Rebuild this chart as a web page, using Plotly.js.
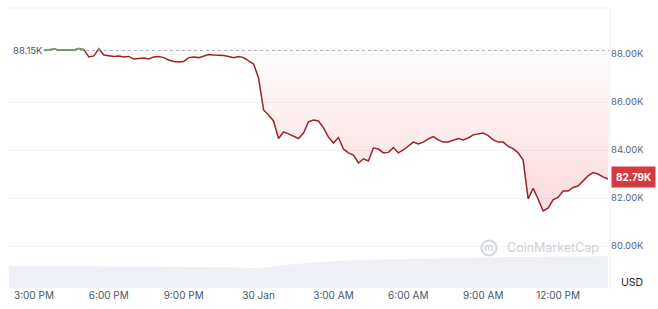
<!DOCTYPE html>
<html>
<head>
<meta charset="utf-8">
<script src="https://cdn.plot.ly/plotly-3.0.1.min.js"></script>
<style>html,body{margin:0;padding:0;background:#fff;}#chart{width:658px;height:309px;}</style>
</head>
<body>
<div id="chart"></div>
<script>
// ---- data ----
const priceStart = '2026-01-29T15:24:00';
const priceStepMin = 12;
const priceK = [88.15, 88.19, 88.21, 88.17, 88.19, 88.18, 88.17, 88.23, 88.18, 87.88,
 87.92, 88.22, 87.96, 87.94, 87.90, 87.92, 87.88, 87.90, 87.79, 87.81,
 87.83, 87.79, 87.88, 87.90, 87.85, 87.75, 87.69, 87.67, 87.69, 87.85,
 87.88, 87.85, 87.90, 87.98, 87.96, 87.96, 87.94, 87.90, 87.85, 87.90,
 87.85, 87.71, 87.58, 87.00, 85.67, 85.46, 85.21, 84.48, 84.75, 84.67,
 84.58, 84.48, 84.71, 85.17, 85.25, 85.21, 84.92, 84.54, 84.29, 84.52,
 84.04, 83.88, 83.79, 83.46, 83.63, 83.54, 84.08, 84.04, 83.88, 83.90,
 84.10, 83.88, 84.00, 84.17, 84.33, 84.25, 84.33, 84.46, 84.56, 84.42,
 84.33, 84.33, 84.40, 84.48, 84.42, 84.50, 84.63, 84.67, 84.71, 84.60,
 84.42, 84.33, 84.33, 84.15, 84.06, 83.88, 83.58, 81.96, 82.40, 81.96,
 81.46, 81.58, 81.92, 82.02, 82.29, 82.29, 82.44, 82.50, 82.71, 82.92,
 83.06, 83.00, 82.88, 82.79];
const openPriceK = 88.15;
const lastPriceLabel = '82.79K';

const volStart = '2026-01-29T14:00:00';
const volStepMin = 60;
const volumeB = [44, 44, 44, 44, 43, 43, 43, 42, 42, 41, 40, 46, 50, 54, 56, 57, 58, 59, 60, 61, 62, 62, 63, 63, 64];

const tickVals = ['2026-01-29 15:00', '2026-01-29 18:00', '2026-01-29 21:00', '2026-01-30 00:00',
  '2026-01-30 03:00', '2026-01-30 06:00', '2026-01-30 09:00', '2026-01-30 12:00'];
const tickText = ['3:00 PM', '6:00 PM', '9:00 PM', '30 Jan', '3:00 AM', '6:00 AM', '9:00 AM', '12:00 PM'];
const yTickVals = [80, 82, 84, 86, 88];
const yTickText = ['80.00K', '82.00K', '84.00K', '86.00K', '88.00K'];

// ---- helpers ----
function pad(n){return String(n).padStart(2,'0');}
function fmt(ms){const d=new Date(ms);return d.getUTCFullYear()+'-'+pad(d.getUTCMonth()+1)+'-'+pad(d.getUTCDate())+' '+pad(d.getUTCHours())+':'+pad(d.getUTCMinutes())+':'+pad(d.getUTCSeconds());}
function series(start, stepMin, n){const t0=Date.parse(start+'Z');const out=[];for(let i=0;i<n;i++)out.push(t0+i*stepMin*60000);return out;}

const pMs = series(priceStart, priceStepMin, priceK.length);
const pX = pMs.map(fmt);
const vX = series(volStart, volStepMin, volumeB.length).map(fmt);

// green part (above open price), with interpolated crossings
const gX = [], gY = [];
for (let i = 0; i < priceK.length; i++) {
  const v = priceK[i];
  if (v >= openPriceK) { gX.push(pX[i]); gY.push(v); } else { gX.push(pX[i]); gY.push(null); }
  if (i < priceK.length - 1) {
    const a = v - openPriceK, b = priceK[i+1] - openPriceK;
    if (a * b < 0) {
      const f = a / (a - b);
      const tm = pMs[i] + f * (pMs[i+1] - pMs[i]);
      if (a > 0) { gX.push(fmt(tm)); gY.push(openPriceK); gX.push(fmt(tm+1)); gY.push(null); }
      else { gX.push(fmt(tm)); gY.push(openPriceK); }
    }
  }
}

const xRange = ['2026-01-29 13:57:36', '2026-01-30 14:04:48'];

const traces = [
  { x: vX, y: volumeB, yaxis: 'y2', type: 'scatter', mode: 'lines', line: {width: 0, shape: 'spline'},
    fill: 'tozeroy', fillcolor: '#eef0f5', hoverinfo: 'skip', showlegend: false },
  { x: [pX[0], xRange[1]], y: [openPriceK, openPriceK], type: 'scatter', mode: 'lines',
    line: {color: '#a7adb8', width: 1, dash: 'dot'}, hoverinfo: 'skip', showlegend: false },
  { x: pX, y: priceK, type: 'scatter', mode: 'lines', line: {color: '#9e2329', width: 1.5},
    fill: 'tonexty',
    fillgradient: {type: 'vertical', start: 81.3, stop: openPriceK,
      colorscale: [[0, 'rgba(234,57,67,0.19)'], [1, 'rgba(234,57,67,0.01)']]},
    showlegend: false },
  { x: gX, y: gY, type: 'scatter', mode: 'lines', line: {color: '#5fae78', width: 1.5},
    connectgaps: false, hoverinfo: 'skip', showlegend: false }
];

const layout = {
  width: 658, height: 309,
  margin: {l: 8, r: 48, t: 8, b: 21},
  paper_bgcolor: '#ffffff', plot_bgcolor: '#ffffff',
  font: {family: 'Inter, "Open Sans", sans-serif', size: 10, color: '#58667e'},
  showlegend: false,
  xaxis: { type: 'date', range: xRange, tickvals: tickVals, ticktext: tickText,
    showgrid: false, zeroline: false, showline: false, ticks: '', ticklen: 0,
    tickfont: {size: 10, color: '#4a5568'}, fixedrange: true },
  yaxis: { side: 'right', range: [78.25, 89.917], tickvals: yTickVals, ticktext: yTickText,
    showgrid: true, gridcolor: '#f3f4f6', gridwidth: 1, zeroline: false, showline: false,
    ticks: '', tickfont: {size: 9.5, color: '#58667e'}, fixedrange: true },
  yaxis2: { overlaying: 'y', range: [0, 560], visible: false, fixedrange: true },
  shapes: [
    {type: 'line', xref: 'paper', yref: 'paper', x0: 0, x1: 1, y0: 1, y1: 1, line: {color: '#eff1f4', width: 1}},
    {type: 'line', xref: 'paper', yref: 'paper', x0: 1, x1: 1, y0: 0, y1: 1, line: {color: '#eff1f4', width: 1}},
    {type: 'circle', xref: 'paper', yref: 'paper', xsizemode: 'pixel', ysizemode: 'pixel',
      xanchor: 0.799, yanchor: 0.143, x0: -7.5, x1: 7.5, y0: -7.5, y1: 7.5, line: {color: '#d3d7dd', width: 2}}
  ],
  annotations: [
    {xref: 'paper', yref: 'y', x: 0, y: openPriceK, xanchor: 'left', yanchor: 'middle', xshift: 3,
      text: '88.15K', showarrow: false, font: {size: 9.5, color: '#4a5568'}},
    {xref: 'paper', yref: 'y', x: 1, y: priceK[priceK.length-1], xanchor: 'left', yanchor: 'middle', xshift: 1, yshift: 2,
      text: '<b>' + lastPriceLabel + '</b>', showarrow: false, bgcolor: '#d63a41', borderpad: 4,
      font: {size: 10, color: '#ffffff'}},
    {xref: 'paper', yref: 'paper', x: 1, y: 0, xanchor: 'left', yanchor: 'bottom', xshift: 9, yshift: -3,
      text: 'USD', showarrow: false, font: {size: 10.5, color: '#222531'}},
    {xref: 'paper', yref: 'paper', x: 0.799, y: 0.143, xanchor: 'center', yanchor: 'middle',
      text: '<b>m</b>', showarrow: false, font: {size: 10.5, color: '#d3d7dd'}},
    {xref: 'paper', yref: 'paper', x: 0.825, y: 0.143, xanchor: 'left', yanchor: 'middle',
      text: 'CoinMarketCap', showarrow: false, font: {size: 12.5, color: '#cdd1d8'}}
  ]
};

Plotly.newPlot('chart', traces, layout, {displayModeBar: false, staticPlot: true});
</script>
</body>
</html>
